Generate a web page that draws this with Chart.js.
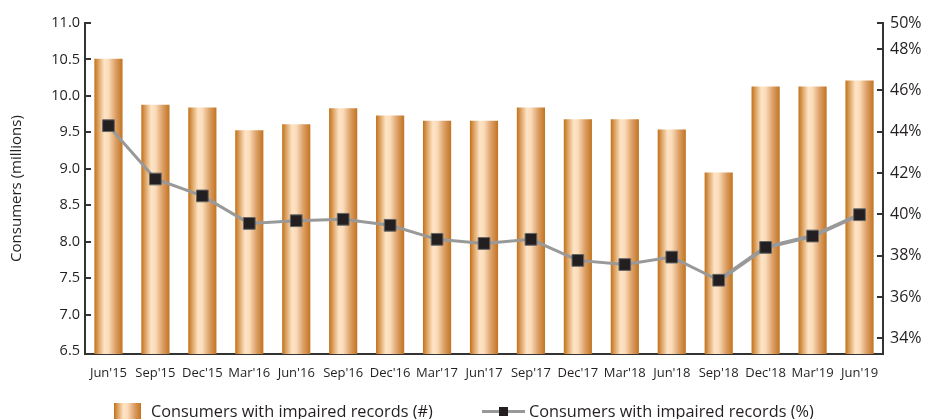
<!DOCTYPE html>
<html lang="en">
<head>
  <meta charset="UTF-8">
  <title>Consumers with impaired records</title>
  <script src="https://cdn.jsdelivr.net/npm/chart.js"></script>
  <style>
    body { margin: 0; background: #fff; font-family: 'Open Sans', sans-serif; color: #231f20; }
    .wrap { position: relative; width: 927px; height: 419px; overflow: hidden; }
    .legend { position: absolute; top: 402px; height: 18px; display: flex; align-items: center; font-size: 16.3px; white-space: nowrap; }
    .box {
      width: 27px; height: 17px; margin-right: 10px;
      background: linear-gradient(to right, #c0701a 0%, #d99a55 12%, #fde4c6 35%, #fbdcba 50%, #dca068 75%, #c27420 100%);
    }
    .lineKey { position: relative; width: 43px; height: 18px; margin-right: 4px; }
    .lineKey::before { content: ''; position: absolute; left: 0; right: 0; top: 8px; height: 3px; background: #999; }
    .lineKey::after { content: ''; position: absolute; left: 17px; top: 5px; width: 9px; height: 9px; background: #231f20; }
  </style>
</head>
<body>
<div class="wrap">
  <canvas id="chart"></canvas>
  <div class="legend" style="left:114px"><span class="box"></span>Consumers with impaired records (#)</div>
  <div class="legend" style="left:482px"><span class="lineKey"></span>Consumers with impaired records (%)</div>
</div>

<script>
const categories = ["Jun'15", "Sep'15", "Dec'15", "Mar'16", "Jun'16", "Sep'16", "Dec'16", "Mar'17", "Jun'17",
                    "Sep'17", "Dec'17", "Mar'18", "Jun'18", "Sep'18", "Dec'18", "Mar'19", "Jun'19"];
// millions of consumers (bars, left axis)
const consumers = [10.51, 9.88, 9.84, 9.53, 9.61, 9.83, 9.73, 9.66, 9.66, 9.84, 9.68, 9.68, 9.54, 8.95, 10.13, 10.13, 10.21];
// share of consumers (line, right axis)
const share = [44.29, 41.71, 40.89, 39.56, 39.69, 39.76, 39.47, 38.79, 38.59, 38.79, 37.77, 37.57, 37.93, 36.81, 38.40, 38.95, 39.98];

const leftTicks = [6.5, 7.0, 7.5, 8.0, 8.5, 9.0, 9.5, 10.0, 10.5, 11.0];
const rightTicks = [34, 36, 38, 40, 42, 44, 46, 48, 50];

const ink = '#231f20';
const axisColor = '#333';

function barGradient(c) {
  const chart = c.chart;
  const x = chart.scales.x;
  if (!chart.chartArea || !x || c.dataIndex === undefined) return '#d99550';
  const cx = x.getPixelForValue(c.dataIndex);
  const w = x.width / categories.length * 0.6;
  const g = chart.ctx.createLinearGradient(cx - w / 2, 0, cx + w / 2, 0);
  g.addColorStop(0, '#c0701a');
  g.addColorStop(0.12, '#d99a55');
  g.addColorStop(0.35, '#fde4c6');
  g.addColorStop(0.5, '#fbdcba');
  g.addColorStop(0.75, '#dca068');
  g.addColorStop(1, '#c27420');
  return g;
}

// short tick marks pointing into the plot on both value axes
const innerTicks = {
  id: 'innerTicks',
  afterDraw(chart) {
    const ctx = chart.ctx;
    ctx.save();
    ctx.strokeStyle = axisColor;
    ctx.lineWidth = 2;
    [['y', 1], ['y1', -1]].forEach(([id, dir]) => {
      const s = chart.scales[id];
      const x0 = id === 'y' ? chart.chartArea.left : chart.chartArea.right;
      s.ticks.forEach((t, i) => {
        if (id === 'y' && i === 0) return;
        const y = Math.round(s.getPixelForValue(t.value));
        ctx.beginPath();
        ctx.moveTo(x0, y);
        ctx.lineTo(x0 + dir * 6, y);
        ctx.stroke();
      });
    });
    ctx.restore();
  }
};

new Chart(document.getElementById('chart'), {
  data: {
    labels: categories,
    datasets: [
      {
        type: 'line',
        label: 'Consumers with impaired records (%)',
        data: share,
        yAxisID: 'y1',
        order: 0,
        borderColor: '#999',
        borderWidth: 3,
        segment: { borderWidth: c => (c.p0DataIndex >= 13 ? 4 : 3) },
        tension: 0,
        pointStyle: 'rect',
        pointRadius: 8.3,
        pointBackgroundColor: ink,
        pointBorderColor: '#666',
        pointBorderWidth: 1
      },
      {
        type: 'bar',
        label: 'Consumers with impaired records (#)',
        data: consumers,
        yAxisID: 'y',
        order: 1,
        backgroundColor: barGradient,
        categoryPercentage: 1,
        barPercentage: 0.6
      }
    ]
  },
  options: {
    responsive: true,
    maintainAspectRatio: false,
    animation: false,
    layout: { padding: { top: 23, left: 0, right: 0, bottom: 0 } },
    plugins: { legend: { display: false }, tooltip: { enabled: false } },
    scales: {
      x: {
        offset: true,
        grid: { display: false, drawTicks: false },
        border: { color: axisColor, width: 2 },
        ticks: { color: ink, font: { family: 'Open Sans', size: 13 }, padding: 11, maxRotation: 0, autoSkip: false },
        afterFit: s => { s.height = 65; }
      },
      y: {
        position: 'left',
        min: 6.46,
        max: 11.0,
        grid: { drawOnChartArea: false, drawTicks: false },
        border: { color: axisColor, width: 2 },
        afterBuildTicks: s => { s.ticks = leftTicks.map(v => ({ value: v })); },
        ticks: { color: ink, font: { family: 'Open Sans', size: 14.5 }, padding: 5, callback: v => v.toFixed(1) },
        title: { display: true, text: 'Consumers (millions)', color: ink, font: { family: 'Open Sans', size: 15 }, padding: { top: 8, bottom: 0 } },
        afterFit: s => { s.width = 85; }
      },
      y1: {
        position: 'right',
        min: 33.24,
        max: 49.26,
        grid: { drawOnChartArea: false, drawTicks: false },
        border: { color: axisColor, width: 2 },
        afterBuildTicks: s => { s.ticks = rightTicks.map(v => ({ value: Math.min(v, s.max) })); },
        ticks: { color: ink, font: { family: 'Open Sans', size: 16 }, padding: 7, callback: (v, i) => rightTicks[i] + '%' },
        afterFit: s => { s.width = 44; }
      }
    }
  },
  plugins: [innerTicks]
});
</script>
</body>
</html>
